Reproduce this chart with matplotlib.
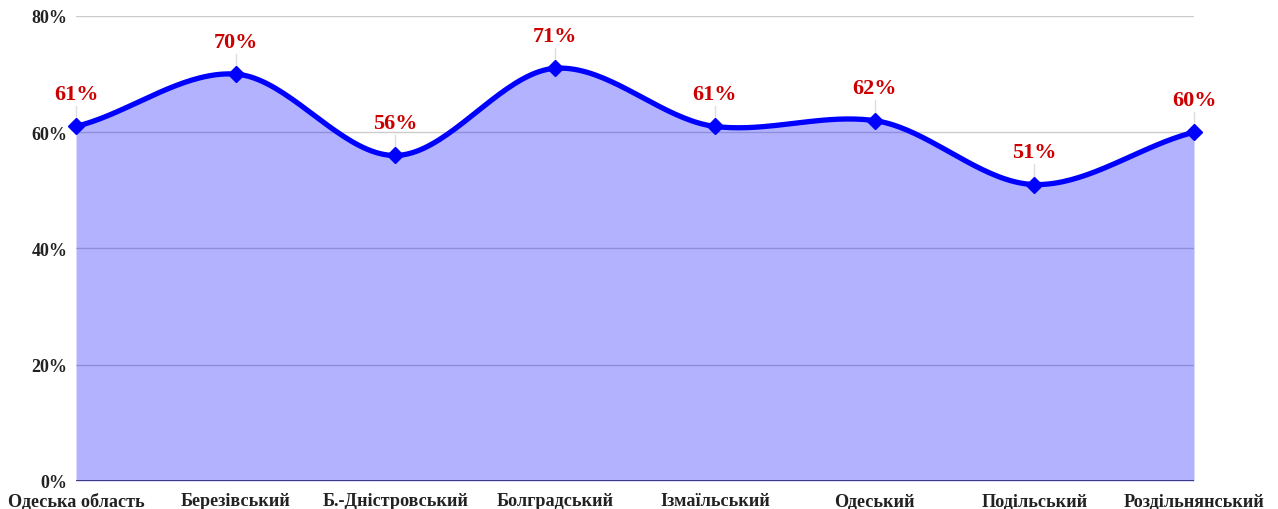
"""
Smoothed area chart of percentages by district.
"""

import matplotlib.pyplot as plt
import numpy as np

# Data
districts = [
    "Одеська область",
    "Березівський",
    "Б.-Дністровський",
    "Болградський",
    "Ізмаїльський",
    "Одеський",
    "Подільський",
    "Роздільнянський",
]
values = [61, 70, 56, 71, 61, 62, 51, 60]
y_ticks = [0, 20, 40, 60, 80]


def cardinal_spline(x, y, k=0.75, num=40):
    """Cardinal (Catmull-Rom style) spline through (x, y)."""
    x = np.asarray(x, dtype=float)
    y = np.asarray(y, dtype=float)
    n = len(x)
    m = np.zeros(n)
    m[1:-1] = k * (y[2:] - y[:-2]) / (x[2:] - x[:-2])
    m[0] = k * (y[1] - y[0]) / (x[1] - x[0])
    m[-1] = k * (y[-1] - y[-2]) / (x[-1] - x[-2])
    xs_all, ys_all = [], []
    for i in range(n - 1):
        h = x[i + 1] - x[i]
        t = np.linspace(0, 1, num, endpoint=(i == n - 2))
        h00 = 2 * t**3 - 3 * t**2 + 1
        h10 = t**3 - 2 * t**2 + t
        h01 = -2 * t**3 + 3 * t**2
        h11 = t**3 - t**2
        xs_all.append(x[i] + t * h)
        ys_all.append(h00 * y[i] + h10 * h * m[i] + h01 * y[i + 1] + h11 * h * m[i + 1])
    return np.concatenate(xs_all), np.concatenate(ys_all)


plt.rcParams["font.family"] = ["Liberation Serif", "DejaVu Serif"]

x = np.arange(len(districts))
xs, ys = cardinal_spline(x, values)

fig = plt.figure(figsize=(12.78, 5.10), dpi=100)
ax = fig.add_axes([0.0595, 0.055, 0.8748, 0.9117])

# Grid first, then translucent fill over it
for t in y_ticks[1:]:
    ax.axhline(t, color="#cccccc", linewidth=1.0, zorder=1)
ax.axhline(0, color="#333333", linewidth=1.2, zorder=1)

ax.fill_between(xs, 0, ys, color="#0000ff", alpha=0.3, linewidth=0, zorder=2)
ax.plot(xs, ys, color="#0000ff", linewidth=3.8, zorder=3, solid_capstyle="butt")
ax.plot(x, values, linestyle="none", marker="D", markersize=8,
        color="#0000ff", zorder=4, clip_on=False)

# Value labels with thin stems
for xi, v in zip(x, values):
    ax.plot([xi, xi], [v, v + 3.5], color="#dddddd", linewidth=1, zorder=2.5,
            clip_on=False)
    ax.annotate(f"{v}%", (xi, v), xytext=(0, 16), textcoords="offset points",
                ha="center", va="bottom", color="#cc0000", fontsize=16,
                fontweight="bold", annotation_clip=False)

ax.set_xlim(0, len(districts) - 1)
ax.set_ylim(0, 80)
ax.set_yticks(y_ticks)
ax.set_yticklabels([f"{t}%" for t in y_ticks], fontsize=13, fontweight="bold",
                   color="#222222")
ax.set_xticks(x)
ax.set_xticklabels(districts, fontsize=13.1, fontweight="bold", color="#222222")
ax.tick_params(axis="y", length=0, pad=6)
ax.tick_params(axis="x", length=0, pad=8)
for s in ax.spines.values():
    s.set_visible(False)

fig.savefig("out.png", dpi=100)
